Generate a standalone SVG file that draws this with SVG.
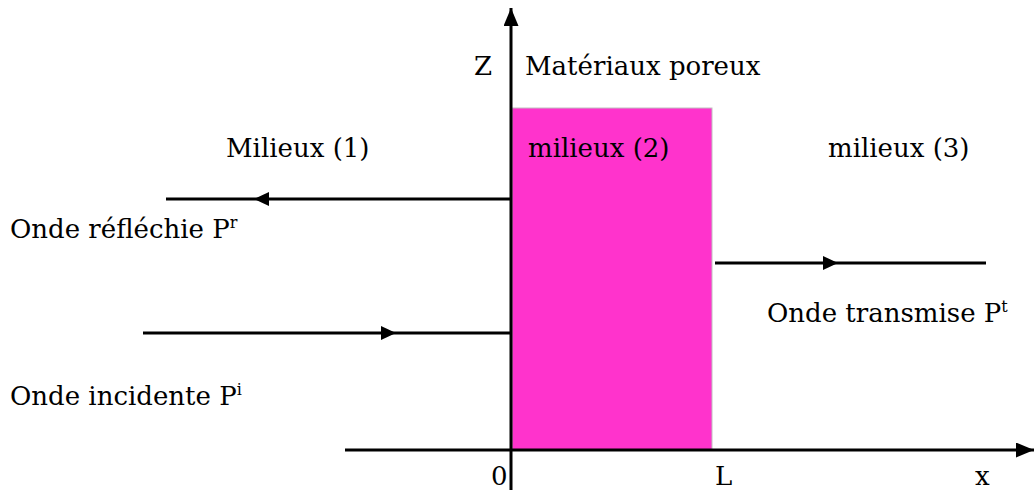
<svg xmlns="http://www.w3.org/2000/svg" width="1034" height="490" viewBox="0 0 1034 490">
<style>
.t{font-family:'DejaVu Serif',serif;font-size:26px;fill:#000}
.sup{font-size:16px}
.ax{stroke:#000;stroke-width:3;fill:none}
.w{stroke:#000;stroke-width:3;fill:none}
</style>
<defs>
<marker id="axh" markerWidth="18" markerHeight="15" refX="18" refY="7.5" orient="auto" markerUnits="userSpaceOnUse">
<path d="M0,0 L18,7.5 L0,15 Z" fill="#000"/>
</marker>
</defs>
<g id="material">
<rect x="512" y="108" width="200" height="342" fill="#FF33CC" stroke="#c0c0c0" stroke-width="1"/>
</g>
<g id="connectors">
<line class="ax" x1="511" y1="490" x2="511" y2="8" marker-end="url(#axh)"/>
<line class="ax" x1="345" y1="450" x2="1034" y2="450" marker-end="url(#axh)"/>
<line class="w" x1="512" y1="199" x2="166" y2="199"/>
<path d="M254,199 L269,192 L269,206 Z" fill="#000"/>
<line class="w" x1="143" y1="333" x2="511" y2="333"/>
<path d="M396,333 L381,326 L381,340 Z" fill="#000"/>
<line class="w" x1="715" y1="263" x2="986" y2="263"/>
<path d="M838,263 L823,256 L823,270 Z" fill="#000"/>
</g>
<g id="labels">
<text class="t" x="474" y="75">Z</text>
<text class="t" x="525" y="75">Matériaux poreux</text>
<text class="t" x="226" y="157">Milieux (1)</text>
<text class="t" x="528" y="157">milieux (2)</text>
<text class="t" x="828" y="157">milieux (3)</text>
<text class="t" x="10" y="238">Onde réfléchie P<tspan class="sup" dy="-10">r</tspan></text>
<text class="t" x="767" y="322">Onde transmise P<tspan class="sup" dy="-10">t</tspan></text>
<text class="t" x="10" y="405">Onde incidente P<tspan class="sup" dy="-10">i</tspan></text>
<text class="t" x="491" y="485">0</text>
<text class="t" x="715" y="485">L</text>
<text class="t" x="975" y="485">x</text>
</g>
</svg>
